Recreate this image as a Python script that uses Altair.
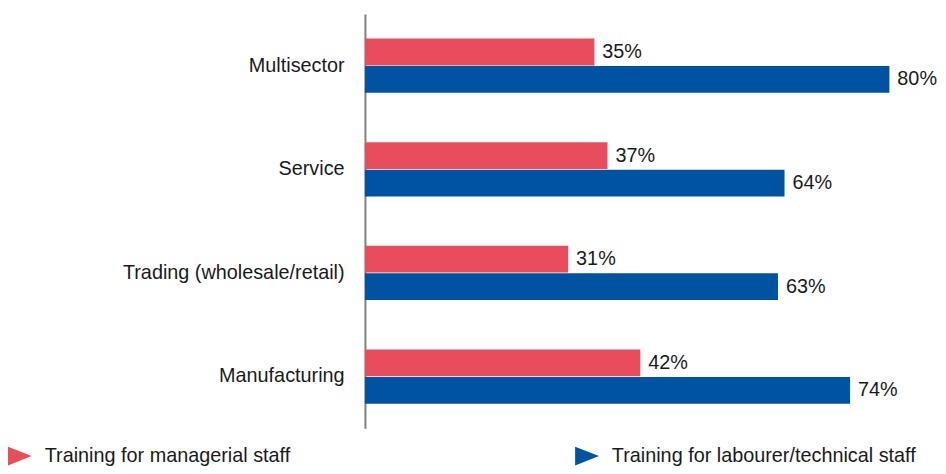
import altair as alt
import pandas as pd

categories = ["Multisector", "Service", "Trading (wholesale/retail)", "Manufacturing"]
series_names = ["Training for managerial staff", "Training for labourer/technical staff"]
managerial = [35, 37, 31, 42]
labourer = [80, 64, 63, 74]
colors = ["#E84D5E", "#0052A2"]

rows = []
for c, m, l in zip(categories, managerial, labourer):
    rows.append({"category": c, "series": series_names[0], "value": m, "label": f"{m}%"})
    rows.append({"category": c, "series": series_names[1], "value": l, "label": f"{l}%"})
df = pd.DataFrame(rows)

FONT = "Liberation Sans"

y_enc = alt.Y("category:N", sort=categories,
              scale=alt.Scale(paddingInner=0.47, paddingOuter=0.235),
              axis=alt.Axis(title=None, ticks=False, labelPadding=21, labelFontSize=20,
                            labelFont=FONT, labelColor="#1a1a1a", domainColor="#7f7f7f",
                            domainWidth=2, labelLimit=400))
yoff = alt.YOffset("series:N", sort=series_names)
x_enc = alt.X("value:Q", scale=alt.Scale(domain=[0, 80], nice=False), axis=None)

bars = alt.Chart(df).mark_bar(size=27).encode(
    y=y_enc,
    yOffset=yoff,
    x=x_enc,
    color=alt.Color("series:N", sort=series_names,
                    scale=alt.Scale(domain=series_names, range=colors),
                    legend=alt.Legend(title=None, orient="none", direction="horizontal",
                                      legendX=-360, legendY=434,
                                      symbolType="M-1,-0.78L1,0L-1,0.78Z", symbolSize=576,
                                      symbolStrokeWidth=0, symbolOpacity=1,
                                      labelFontSize=20, labelFont=FONT, labelColor="#1a1a1a",
                                      labelOffset=13, columnPadding=287, labelLimit=500)),
)

text = alt.Chart(df).mark_text(align="left", baseline="middle", dx=8, fontSize=20,
                               font=FONT, color="#1a1a1a").encode(
    y=alt.Y("category:N", sort=categories),
    yOffset=yoff,
    x=x_enc,
    text="label:N",
)

chart = alt.layer(bars, text).properties(
    width=529, height=418,
    background="white",
    autosize=alt.AutoSizeParams(type="none"),
    padding={"left": 360, "top": 4, "right": 49, "bottom": 36},
).configure_view(stroke=None)

chart.save("out.html", embed_options={"renderer": "svg", "actions": False})
